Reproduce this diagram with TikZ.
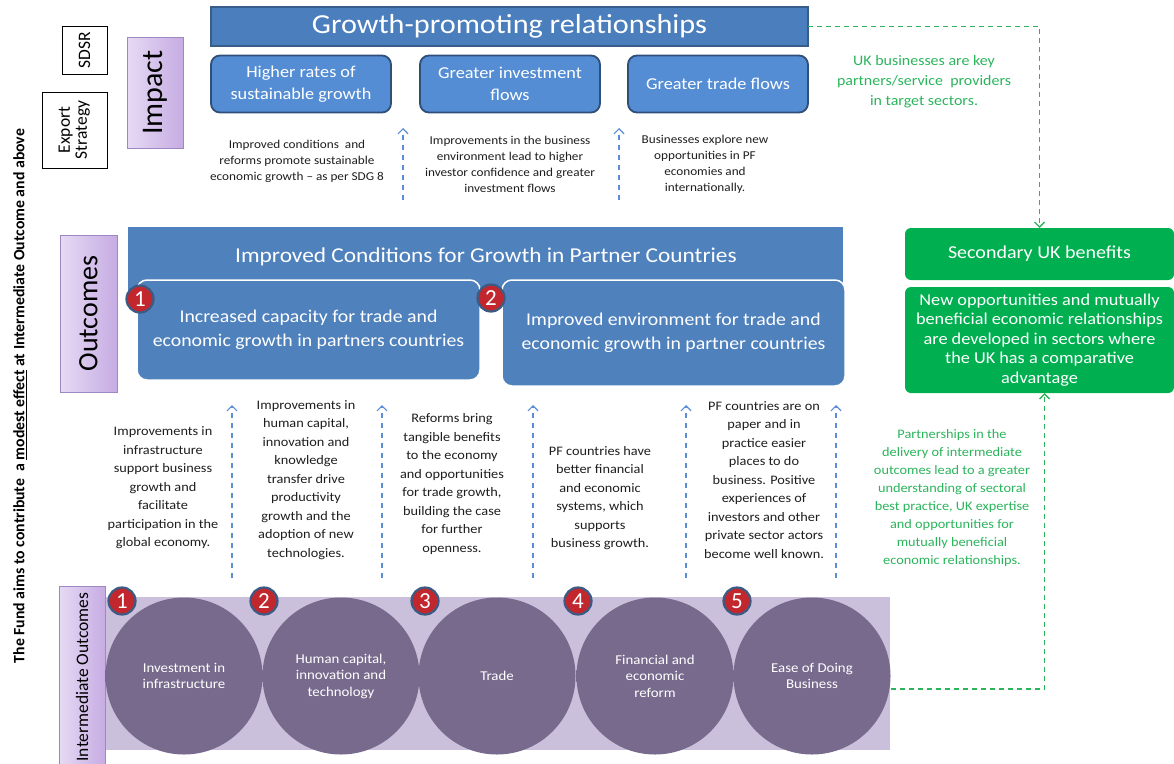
\documentclass[tikz,border=0pt]{standalone}
\usepackage{fontspec}
\setmainfont{Carlito}[FakeStretch=1.1]
\newfontfamily\rotfont{Carlito}
\usetikzlibrary{calc,arrows.meta,positioning}

\definecolor{barblue}{HTML}{4A7EBD}
\definecolor{barline}{HTML}{385D8A}
\definecolor{boxblue}{HTML}{548DD4}
\definecolor{boxline}{HTML}{2F4E78}
\definecolor{outblue}{HTML}{4F81BD}
\definecolor{arrowblue}{HTML}{5B8ED6}
\definecolor{ukgreen}{HTML}{00B050}
\definecolor{notegreen}{HTML}{2BB45C}
\definecolor{textgrey}{HTML}{1E1E1E}
\definecolor{lilacL}{HTML}{E6DAF4}
\definecolor{lilacR}{HTML}{C6ACE3}
\definecolor{lilacline}{HTML}{9F87C2}
\definecolor{band}{HTML}{CBC0DC}
\definecolor{discin}{HTML}{786A8D}
\definecolor{discout}{HTML}{58496D}
\definecolor{badgered}{HTML}{C1272D}
\definecolor{badgeline}{HTML}{3B5B84}

\pgfdeclareradialshading{discshade}{\pgfpoint{0bp}{0bp}}{color(0bp)=(discin); color(41bp)=(discin); color(50bp)=(discout)}

\newcommand\fsz[2]{\fontsize{#1}{#2}\selectfont}

\begin{document}
\begin{tikzpicture}[x=1pt,y=-1pt,
    every node/.style={inner sep=0pt,outer sep=0pt},
    tagbox/.style={draw=black,line width=0.8pt,fill=white,font=\rotfont\fsz{17.5}{19}},
    levelbox/.style={draw=lilacline,line width=1pt,left color=lilacL,right color=lilacR,text=black},
    headbar/.style={draw=barline,line width=1.5pt,fill=barblue,text=white},
    impactbox/.style={rounded corners=9pt,draw=boxline,line width=1.8pt,fill=boxblue,
        text=white,align=center,font=\fsz{16.6}{22},minimum width=180pt,minimum height=57pt},
    outbox/.style={rounded corners=10pt,draw=white,line width=1.5pt,fill=outblue,
        text=white,align=center,font=\fsz{18}{24},minimum width=343pt},
    greenbox/.style={rounded corners=6pt,fill=ukgreen,text=white,align=center,minimum width=269pt},
    badge/.style={circle,draw=badgeline,line width=2.2pt,fill=badgered,minimum size=27pt,
        text=white,font=\rotfont\fsz{23}{23}},
    disc/.style={circle,minimum size=157pt,shading=discshade,text=white,align=center,
        font=\fsz{13.5}{16.5}},
    note/.style={text=textgrey,align=center},
    gnote/.style={text=notegreen,align=center},
    uplink/.style={draw=arrowblue,line width=1.2pt,dash pattern=on 5pt off 5pt,
        -{Straight Barb[length=5pt,width=10pt]}},
    glink/.style={draw=notegreen,line width=1.4pt,dash pattern=on 5pt off 4pt},
    tagline/.style={draw=arrowblue!70,line width=1.2pt,dash pattern=on 4pt off 3pt}]

\useasboundingbox (0,0) rectangle (1174,763);

% side note
\node[rotate=90,font=\rotfont\bfseries\fsz{15.8}{18}] (fund) at (20,396)
    {The Fund aims to contribute \ a \underline{modest effect} at Intermediate Outcome and above};

% impact level
\node[tagbox,minimum width=45pt,minimum height=48pt] (sdsr) at (84.5,50) {\rotatebox{90}{SDSR}};
\node[tagbox,minimum width=65pt,minimum height=76pt] (export) at (74.5,130)
    {\rotatebox{90}{\begin{tabular}{@{}c@{}}Export\\[-2pt]Strategy\end{tabular}}};
\node[levelbox,minimum width=56pt,minimum height=111pt,font=\rotfont\fsz{30}{30}] (impact) at (155,92.5)
    {\rotatebox{90}{Impact}};
\draw[tagline] ($(sdsr.south east)!0.19!(sdsr.north east)$) -- ($(sdsr.south east)!0.19!(sdsr.north east)$ -| impact.west);
\draw[tagline] ($(export.north east)!0.28!(export.south east)$) -- ($(export.north east)!0.28!(export.south east)$ -| impact.west);

\node[headbar,minimum width=597pt,minimum height=39pt,font=\fsz{27.5}{30}] (growth) at (509.5,26.5)
    {Growth-promoting relationships};
\node[impactbox] (rates) at (301,84) {Higher rates of\\sustainable growth};
\node[impactbox] (invest) at (510,84) {Greater investment\\flows};
\node[impactbox] (tradeflow) at (718,84) {Greater trade flows};

\node[note,font=\fsz{12}{16}] (n1) at (297,161)
    {Improved conditions \ and\\reforms promote sustainable\\economic growth -- as per SDG 8};
\node[note,font=\fsz{12}{16}] (n2) at (510,164)
    {Improvements in the business\\environment lead to higher\\investor confidence and greater\\investment flows};
\node[note,font=\fsz{12}{16}] (n3) at (705,164)
    {Businesses explore new\\opportunities in PF\\economies and\\internationally.};
\coordinate (t1a) at (403,200); \coordinate (t1b) at (403,128);
\coordinate (t2a) at (619,200); \coordinate (t2b) at (619,128);
\draw[uplink] (t1a) -- (t1b);
\draw[uplink] (t2a) -- (t2b);

\node[gnote,font=\fsz{14.5}{20}] (ukbiz) at (924,82)
    {UK businesses are key\\partners/service \ providers\\in target sectors.};

% outcomes level
\node[levelbox,minimum width=57pt,minimum height=157pt,font=\rotfont\fsz{28}{28}] (outcomes) at (88.5,313.5)
    {\rotatebox{90}{Outcomes}};
\node[fill=outblue,minimum width=715pt,minimum height=73pt,anchor=north west] (cond) at (128,227) {};
\node[text=white,font=\fsz{21.2}{24}] (condtitle) at (486,257)
    {Improved Conditions for Growth in Partner Countries};
\node[outbox,minimum height=100pt,anchor=north west] (capacity) at (137,280)
    {Increased capacity for trade and\\economic growth in partners countries};
\node[outbox,minimum height=106pt,anchor=north west] (environ) at (502,280)
    {Improved environment for trade and\\economic growth in partner countries};
\node[badge] (o1) at (140,299) {1};
\node[badge] (o2) at (491,298) {2};

\node[greenbox,minimum height=52pt,font=\fsz{18.2}{22}] (sec) at (1039.5,254) {Secondary UK benefits};
\node[greenbox,minimum height=106pt,font=\fsz{16.6}{19.5}] (secbody) at (1039.5,340)
    {New opportunities and mutually\\beneficial economic relationships\\are developed in sectors where\\the UK has a comparative\\advantage};

% pathways
\node[note,font=\fsz{13}{18.5}] (p1) at (163,488)
    {Improvements in\\infrastructure\\support business\\growth and\\facilitate\\participation in the\\global economy.};
\node[note,font=\fsz{13}{18.5}] (p2) at (306,480)
    {Improvements in\\human capital,\\innovation and\\knowledge\\transfer drive\\productivity\\growth and the\\adoption of new\\technologies.};
\node[note,font=\fsz{13}{18.5}] (p3) at (452,484)
    {Reforms bring\\tangible benefits\\to the economy\\and opportunities\\for trade growth,\\building the case\\for further\\openness.};
\node[note,font=\fsz{13}{18.5}] (p4) at (600,498)
    {PF countries have\\better financial\\and economic\\systems, which\\supports\\business growth.};
\node[note,font=\fsz{13}{18.5}] (p5) at (764,480)
    {PF countries are on\\paper and in\\practice easier\\places to do\\business. Positive\\experiences of\\investors and other\\private sector actors\\become well known.};
\node[gnote,font=\fsz{13}{18}] (partner) at (952,498)
    {Partnerships in the\\delivery of intermediate\\outcomes lead to a greater\\understanding of sectoral\\best practice, UK expertise\\and opportunities for\\mutually beneficial\\economic relationships.};
\foreach \x [count=\i] in {232,382,533,686,836} {
    \coordinate (lo\i) at (\x,578);
    \coordinate (hi\i) at (\x,405);
    \draw[uplink] (lo\i) -- (hi\i);
}

% intermediate outcomes
\node[fill=band,minimum width=785pt,minimum height=153pt,anchor=north west] (strip) at (105,597) {};
\node[levelbox,minimum width=46pt,minimum height=182pt,anchor=north west,font=\rotfont\fsz{17.5}{17.5}] (inter) at (59,586)
    {\rotatebox{90}{Intermediate Outcomes}};
\node[disc] (d1) at (184,676) {Investment in\\infrastructure};
\node[disc] (d2) at (341,676) {Human capital,\\innovation and\\technology};
\node[disc] (d3) at (497,676) {Trade};
\node[disc] (d4) at (655,676) {Financial and\\economic\\reform};
\node[disc] (d5) at (812,676) {Ease of Doing\\Business};
\node[badge] (b1) at (122,601) {1};
\node[badge] (b2) at (264,601) {2};
\node[badge] (b3) at (425,601) {3};
\node[badge] (b4) at (578,601) {4};
\node[badge] (b5) at (737,601) {5};

% UK benefit links
\draw[glink,-{Straight Barb[length=5pt,width=10pt]}] (growth.east) -| (sec.north);
\draw[glink,-{Straight Barb[length=5pt,width=10pt]}] ([yshift=-13pt]d5.east) -| ([xshift=5pt]secbody.south);
\end{tikzpicture}
\end{document}
